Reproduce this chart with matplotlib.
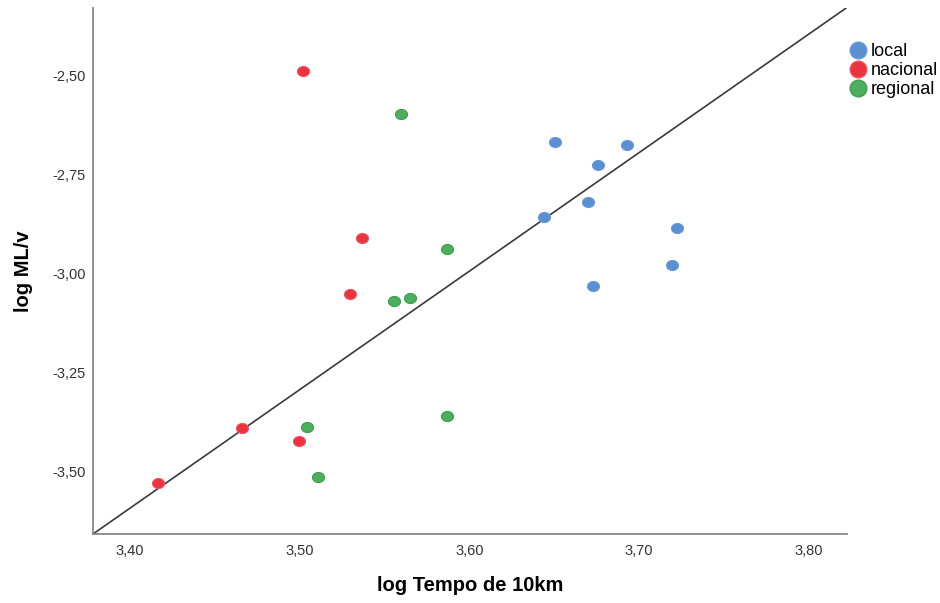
import numpy as np
import matplotlib
matplotlib.use("Agg")
import matplotlib.pyplot as plt
from matplotlib.lines import Line2D

plt.rcParams['font.family'] = ['Liberation Sans', 'DejaVu Sans']

# Data
local_x = [3.6505, 3.6931, 3.6756, 3.6699, 3.6438, 3.7225, 3.7193, 3.6728]
local_y = [-2.6685, -2.675, -2.725, -2.8195, -2.8567, -2.8853, -2.978, -3.031]

nacional_x = [3.502, 3.5368, 3.5297, 3.4662, 3.4997, 3.4168]
nacional_y = [-2.488, -2.9106, -3.052, -3.391, -3.424, -3.530]

regional_x = [3.5597, 3.5868, 3.565, 3.556, 3.5868, 3.5044, 3.5109]
regional_y = [-2.597, -2.939, -3.062, -3.070, -3.361, -3.389, -3.515]

groups = ['local', 'nacional', 'regional']
face_colors = ['#5b8fd0', '#e8343f', '#4cae5e']
edge_colors = ['#6a9bd8', '#ee5560', '#3f9c51']

xticks = [3.40, 3.50, 3.60, 3.70, 3.80]
yticks = [-3.50, -3.25, -3.00, -2.75, -2.50]
line_slope = 3.0
line_intercept = -13.7945

fig = plt.figure(figsize=(9.4, 6.03), dpi=100)
ax = fig.add_axes([93/940, 1-534/603, (847-93)/940, (534-8.3)/603])

# elliptical marker (slightly wider than tall)
t = np.linspace(0, 2*np.pi, 60)
ell = np.c_[1.2*np.cos(t), np.sin(t)]

data = [(local_x, local_y), (nacional_x, nacional_y), (regional_x, regional_y)]
for (xs, ys), fc, ec in zip(data, face_colors, edge_colors):
    ax.scatter(xs, ys, s=75, marker=ell, facecolor=fc, edgecolor=ec, linewidth=0.8, zorder=3)

ax.axline((0, line_intercept), slope=line_slope, color='#3a3a3a', linewidth=1.2, zorder=2)

ax.set_xlim(3.3785, 3.8224)
ax.set_ylim(-3.659, -2.3295)
ax.set_xticks(xticks)
ax.set_yticks(yticks)
ax.set_xticklabels([f"{v:.2f}".replace('.', ',') for v in xticks])
ax.set_yticklabels([f"{v:.2f}".replace('.', ',') for v in yticks])
ax.tick_params(length=0, labelsize=10.5, labelcolor='#333333')
ax.tick_params(axis='x', pad=7)
ax.tick_params(axis='y', pad=5)

for s in ['top', 'right']:
    ax.spines[s].set_visible(False)
for s in ['left', 'bottom']:
    ax.spines[s].set_color('#888888')
    ax.spines[s].set_linewidth(1.3)

ax.set_xlabel('log Tempo de 10km', fontsize=14.5, fontweight='bold', labelpad=13)
ax.set_ylabel('log ML/v', fontsize=14.5, fontweight='bold', labelpad=14)

handles = [Line2D([], [], linestyle='none', marker='o', markersize=12,
                  markerfacecolor=fc, markeredgecolor=ec, markeredgewidth=1)
           for fc, ec in zip(face_colors, edge_colors)]
fig.legend(handles, groups, loc='upper left', bbox_to_anchor=(848/940, 1-43/603),
           frameon=False, fontsize=13, handletextpad=0.15, labelspacing=0.12,
           borderaxespad=0, borderpad=0, handlelength=1.1)

fig.savefig('out.png', dpi=100)
